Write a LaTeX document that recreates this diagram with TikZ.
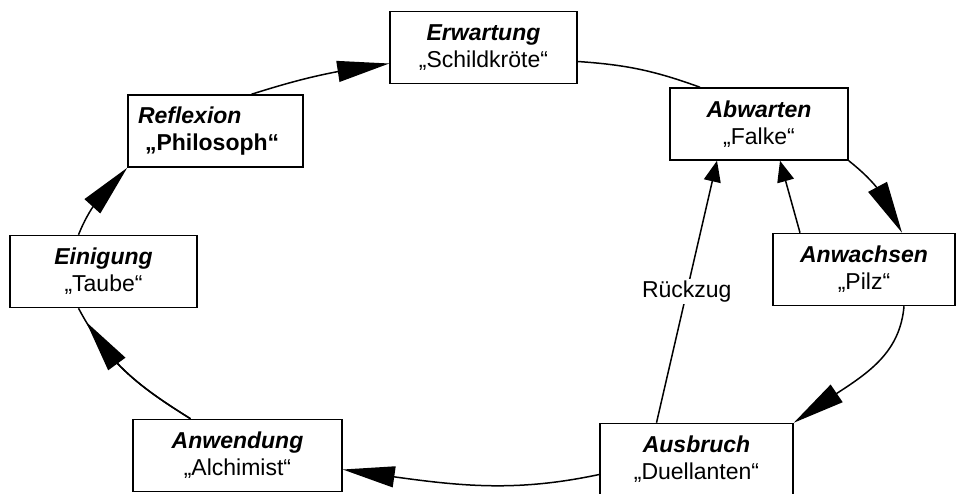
\documentclass[tikz,border=0pt]{standalone}
\usepackage{fontspec}
\setmainfont{Liberation Sans}
\usetikzlibrary{arrows.meta,bending}

\begin{document}
\begin{tikzpicture}[
  x=1pt, y=1pt,
  every node/.style={font=\fontsize{23}{27}\selectfont},
  box/.style={draw, line width=1.5pt, minimum height=72pt, inner sep=0pt, align=center},
  link/.style={line width=1.5pt},
  bigtip/.style={link, -{Triangle[length=52pt, width=21pt]}},
  smalltip/.style={link, -{Triangle[length=21pt, width=17pt]}}
]
\useasboundingbox (0,0) rectangle (968,493);
\node[box, minimum width=187pt] (erw) at (483.5,445.5) {\textbf{\textit{Erwartung}}\\„Schildkröte“};
\node[box, minimum width=178pt] (abw) at (759,369) {\textbf{\textit{Abwarten}}\\„Falke“};
\node[box, minimum width=182pt] (anwa) at (864,223.5) {\textbf{\textit{Anwachsen}}\\„Pilz“};
\node[box, minimum width=193pt] (ausb) at (696.5,33.5) {\textbf{\textit{Ausbruch}}\\„Duellanten“};
\node[box, minimum width=209pt] (anwe) at (237.5,37.5) {\textbf{\textit{Anwendung}}\\„Alchimist“};
\node[box, minimum width=187pt] (ein) at (103.5,221.5) {\textbf{\textit{Einigung}}\\„Taube“};
\node[box, minimum width=175pt, text width=155pt, align=left] (refl) at (215.5,362)
  {\textbf{\textit{Reflexion}}\\\hspace*{7pt}\textbf{„Philosoph“}};

\draw[bigtip] ([xshift=36pt]refl.north) to[bend left=5] ([yshift=-16pt]erw.west);
\draw[link] ([yshift=-14pt]erw.east) to[bend left=8] ([xshift=-59pt]abw.north);
\draw[bigtip] (abw.south east) to[bend left=15] ([xshift=38pt]anwa.north);
\draw[bigtip] ([xshift=40pt]anwa.south) to[out=-95, in=38] (ausb.north east);
\draw[bigtip] ([yshift=-15pt]ausb.west) to[out=192, in=-8] ([yshift=-14pt]anwe.east);
\draw[link] ([xshift=-47pt]anwe.north) to[out=148, in=-62] ([xshift=-25pt]ein.south);
\draw[bigtip, shorten >=16pt] ([xshift=-47pt]anwe.north) to[out=148, in=-62] ([xshift=-25pt]ein.south);
\draw[bigtip] ([xshift=-25pt]ein.north) to[out=68, in=-135] (refl.south west);
\draw[smalltip] ([xshift=-40pt]ausb.north) -- node[pos=0.5, fill=white, inner sep=2pt] {Rückzug} ([xshift=-42pt]abw.south);
\draw[smalltip] ([xshift=-64pt]anwa.north) -- ([xshift=21pt]abw.south);
\end{tikzpicture}
\end{document}
